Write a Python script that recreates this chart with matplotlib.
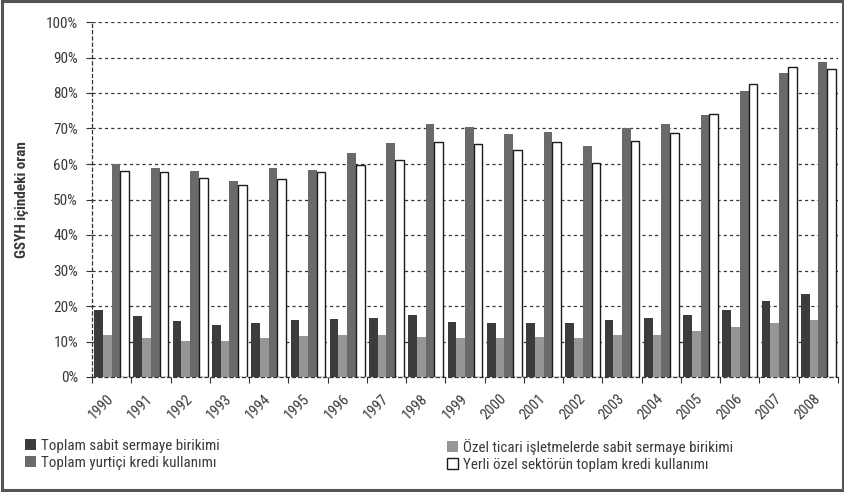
import matplotlib
matplotlib.use("Agg")
import matplotlib.pyplot as plt
from matplotlib.patches import Rectangle
import numpy as np

years = [str(y) for y in range(1990, 2009)]
sabit_sermaye = [18.9, 17.2, 15.8, 14.6, 15.2, 16.1, 16.3, 16.6, 17.5, 15.5,
                 15.2, 15.2, 15.2, 16.1, 16.6, 17.5, 18.9, 21.4, 23.4]
ozel_ticari = [11.8, 11.0, 10.1, 10.1, 11.0, 11.5, 11.8, 11.8, 11.3, 11.0,
               11.0, 11.3, 11.0, 11.8, 11.8, 12.9, 14.0, 15.2, 16.1]
yurtici_kredi = [60.0, 58.9, 58.0, 55.2, 58.9, 58.3, 63.1, 65.9, 71.3, 70.4,
                 68.5, 69.0, 65.1, 70.1, 71.3, 73.8, 80.6, 85.6, 88.7]
ozel_sektor_kredi = [58.0, 57.8, 56.1, 54.1, 55.8, 57.7, 59.6, 61.1, 66.2, 65.6,
                     63.9, 66.2, 60.4, 66.6, 68.7, 74.2, 82.6, 87.4, 86.9]
series_labels = ["Toplam sabit sermaye birikimi",
                 "Özel ticari işletmelerde sabit sermaye birikimi",
                 "Toplam yurtiçi kredi kullanımı",
                 "Yerli özel sektörün toplam kredi kullanımı"]

plt.rcParams['font.family'] = ['Roboto Condensed', 'Liberation Sans Narrow',
                               'Roboto', 'DejaVu Sans']
text_color = '#3a3a3a'

fig = plt.figure(figsize=(8.45, 4.92), dpi=100)
ax = fig.add_axes([92 / 845, 115 / 492, 746 / 845, 355 / 492])

x = np.arange(len(years))
w = 0.222
styles = [
    dict(color='#3c3c3c', edgecolor='none'),
    dict(color='#969699', edgecolor='none'),
    dict(color='#6a6a6d', edgecolor='none'),
    dict(color='white', edgecolor='#1a1a1a', linewidth=1.0),
]
data = [sabit_sermaye, ozel_ticari, yurtici_kredi, ozel_sektor_kredi]
handles = []
for k, (vals, st) in enumerate(zip(data, styles)):
    b = ax.bar(x + (k - 1.5) * w, vals, width=w, label=series_labels[k],
               zorder=3, **st)
    handles.append(b)

ax.set_xlim(-0.5, len(years) - 0.5)
ax.set_ylim(0, 100)
ax.set_yticks(np.arange(0, 101, 10))
ax.set_yticklabels([f"{v}%" for v in range(0, 101, 10)])
ax.yaxis.grid(True, linestyle=(0, (2.5, 2.5)), color='#333333', linewidth=0.9)
ax.set_axisbelow(True)

ax.set_xticks(x)
ax.set_xticklabels(years, rotation=45, ha='right', va='center',
                   rotation_mode='anchor')
ax.set_xticks(np.arange(-0.5, len(years)), minor=True)
ax.tick_params(axis='x', which='major', length=0, pad=14,
               labelsize=10.5, labelcolor=text_color)
ax.tick_params(axis='x', which='minor', length=4, color='#333333', width=0.8)
ax.tick_params(axis='y', length=4, color='#333333', width=0.8,
               labelsize=11, labelcolor=text_color, pad=6)

for side in ['top', 'right']:
    ax.spines[side].set_visible(False)
for side in ['left', 'bottom']:
    ax.spines[side].set_linestyle((0, (2.5, 2.5)))
    ax.spines[side].set_color('#333333')
    ax.spines[side].set_linewidth(0.9)

ax.set_ylabel("GSYH içindeki oran", fontsize=11, fontweight='bold',
              color=text_color)
ax.yaxis.set_label_coords(-0.085, 0.5)

legend_kw = dict(loc='upper left', frameon=False, fontsize=10.8,
                 handlelength=0.75, handleheight=0.75, handletextpad=0.3,
                 labelspacing=0.2, labelcolor=text_color, borderaxespad=0,
                 borderpad=0)
leg1 = fig.legend([handles[0], handles[2]], [series_labels[0], series_labels[2]],
                  bbox_to_anchor=(25 / 845, 1 - 439 / 492), **legend_kw)
leg2 = fig.legend([handles[1], handles[3]], [series_labels[1], series_labels[3]],
                  bbox_to_anchor=(447 / 845, 1 - 439 / 492), **legend_kw)

fig.add_artist(Rectangle((0.002, 0.004), 0.996, 0.994, transform=fig.transFigure,
                         fill=False, edgecolor='#555555', linewidth=2.2))

fig.savefig("out.png", dpi=100)
